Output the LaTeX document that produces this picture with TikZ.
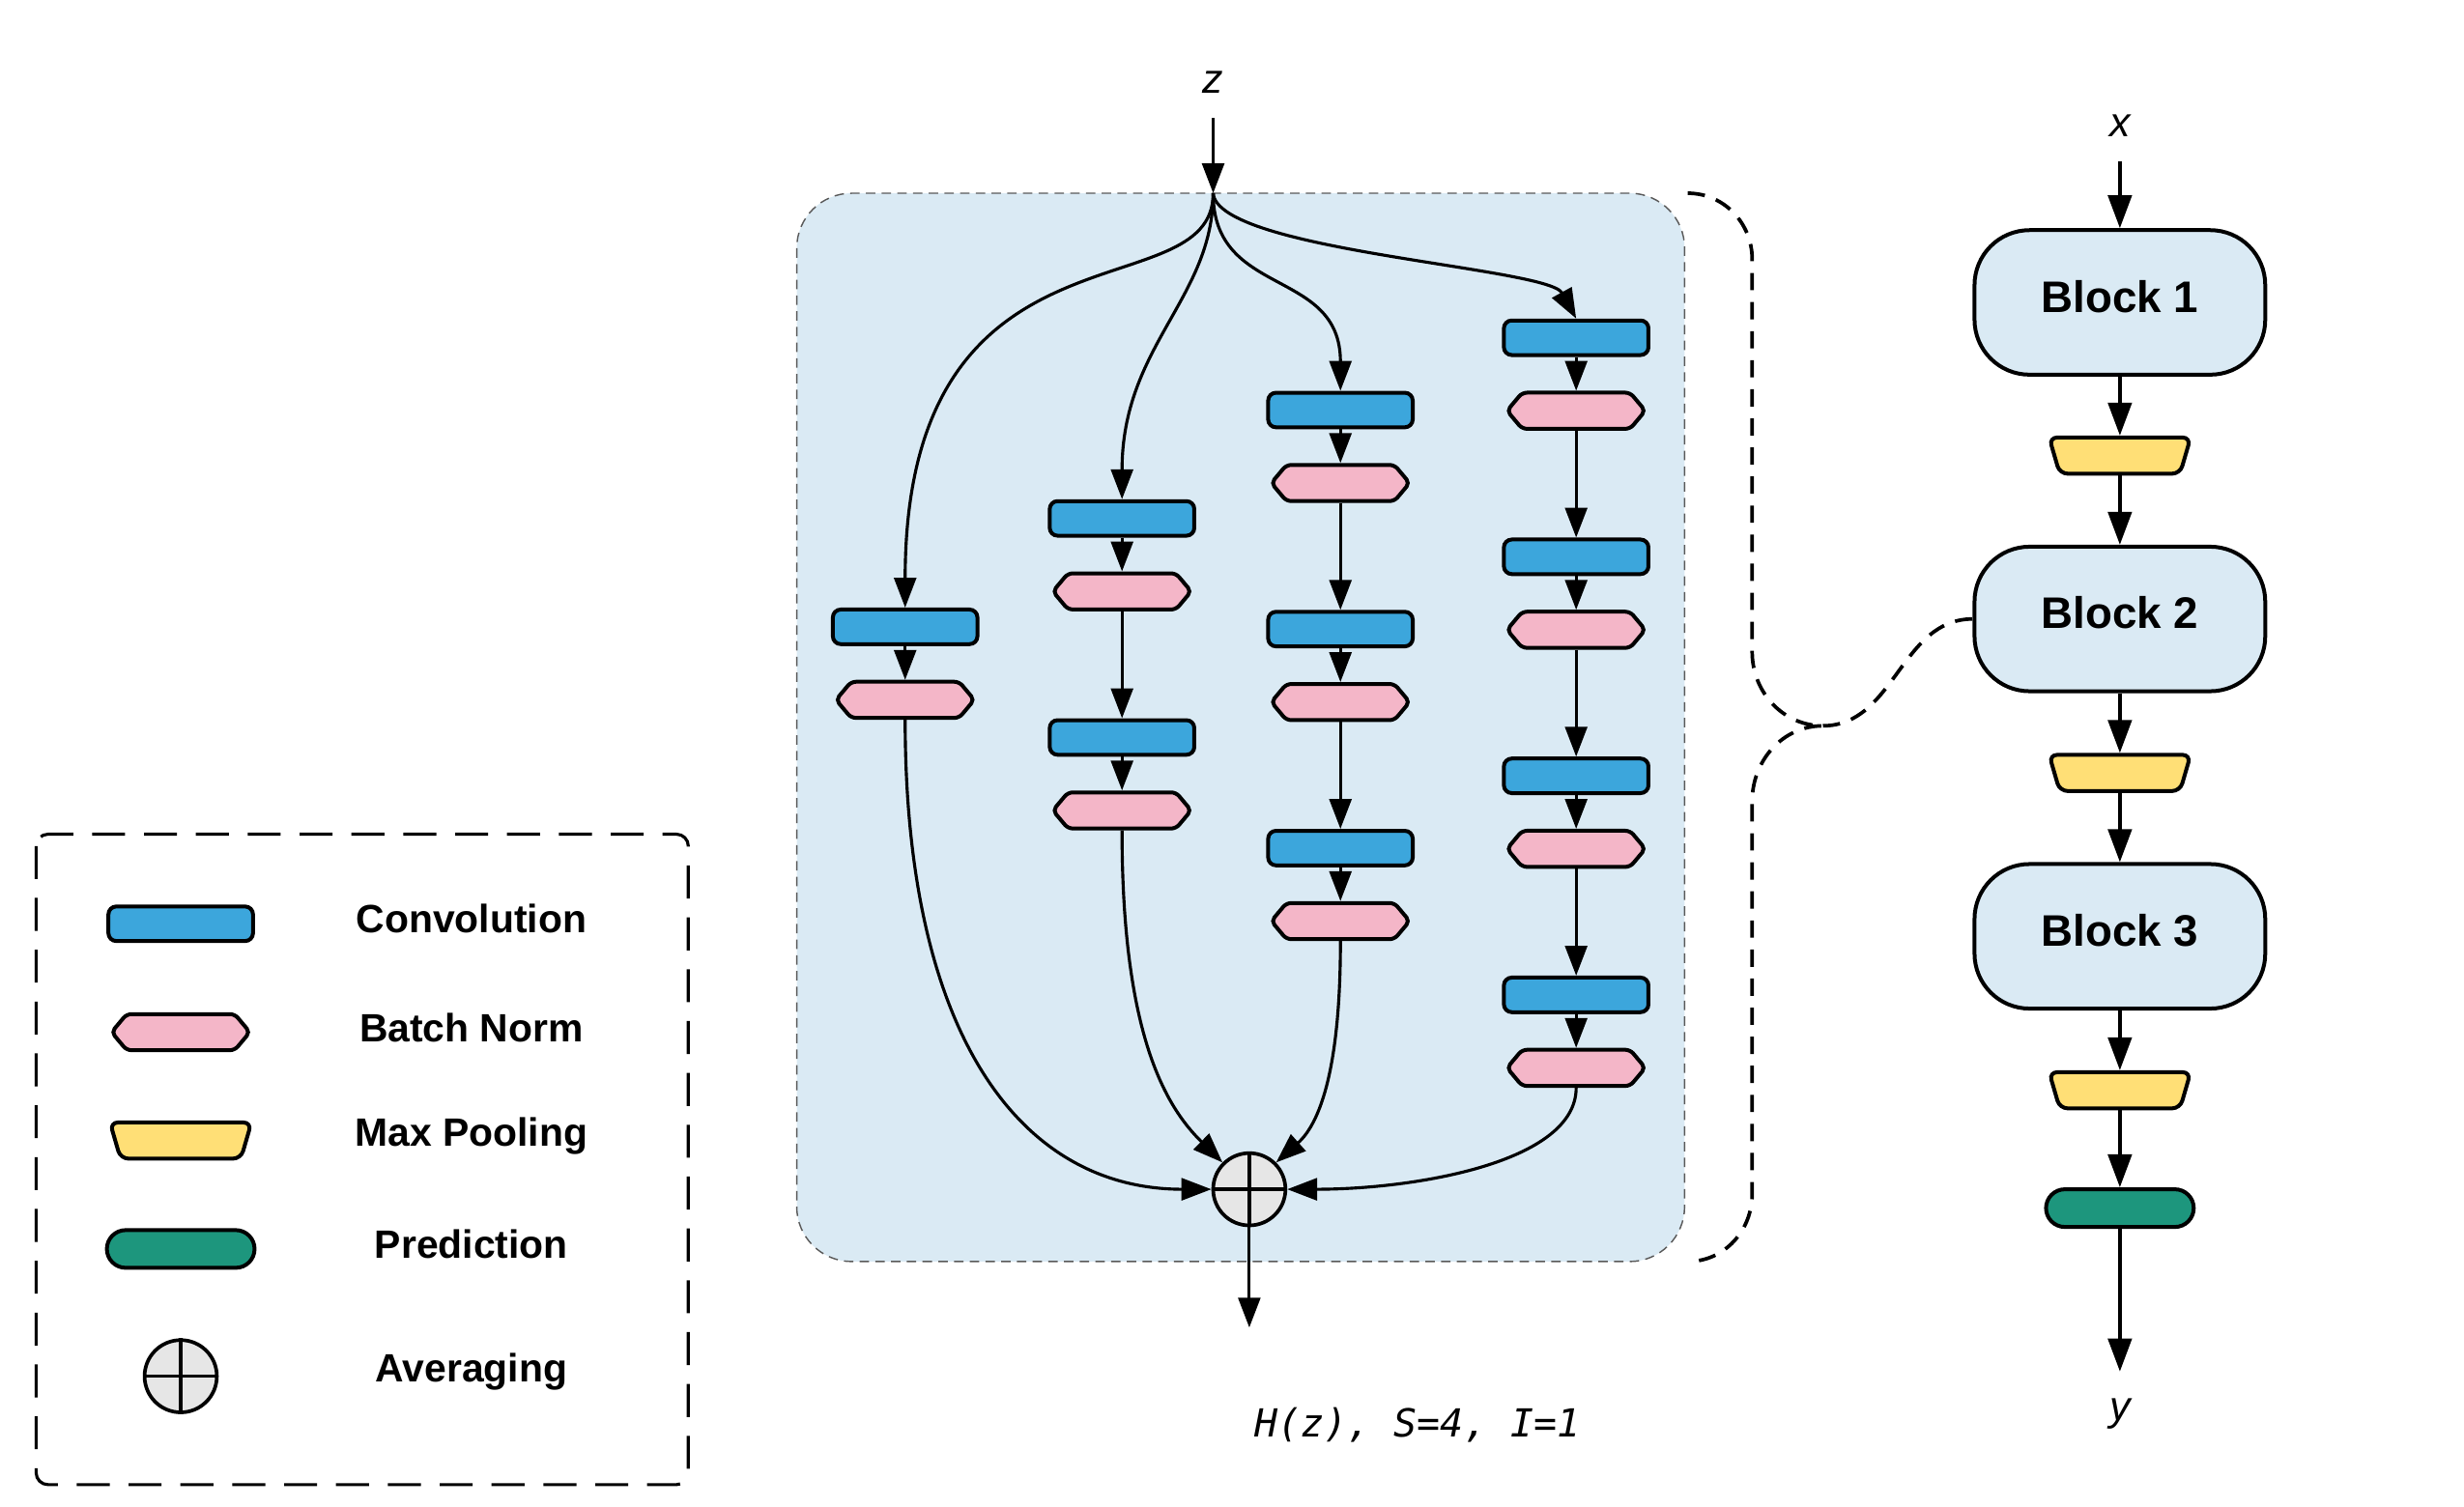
\documentclass[tikz,border=0pt]{standalone}
\usepackage{fontspec}
\setmainfont{Liberation Sans}
\setmonofont{DejaVu Sans Mono}
\usepackage{tikz}
\usetikzlibrary{arrows.meta, positioning, shapes.geometric, shapes.misc, shapes.symbols}

\definecolor{convblue}{HTML}{3CA6DC}
\definecolor{bnpink}{HTML}{F4B6C8}
\definecolor{poolyellow}{HTML}{FFDF76}
\definecolor{predgreen}{HTML}{1D967D}
\definecolor{blockbg}{HTML}{DAEAF4}
\definecolor{avggray}{HTML}{E6E6E6}

\begin{document}
\begin{tikzpicture}[
    conv/.style={draw, line width=1.4pt, fill=convblue, rounded corners=1mm,
                 minimum width=18.4mm, minimum height=4.4mm, inner sep=0pt},
    bn/.style={draw, line width=1.4pt, fill=bnpink, signal, signal to=east and west,
               signal pointer angle=100, rounded corners=0.6mm,
               minimum width=17.6mm, minimum height=4.6mm, inner sep=0pt},
    pool/.style={draw, line width=1.4pt, fill=poolyellow, trapezium,
                 trapezium left angle=85, trapezium right angle=85,
                 shape border rotate=180, trapezium stretches=true,
                 rounded corners=1mm, minimum width=18mm, minimum height=4.6mm,
                 inner sep=1pt},
    pred/.style={draw, line width=1.4pt, fill=predgreen, rounded rectangle,
                 minimum width=18.8mm, minimum height=4.8mm, inner sep=0pt},
    avg/.style={draw, line width=1.3pt, fill=avggray, circle, minimum size=9.2mm,
                inner sep=0pt},
    block/.style={draw, line width=1.4pt, fill=blockbg, rounded corners=7mm,
                  minimum width=37mm, minimum height=18.4mm, text depth=1.6mm,
                  font=\fontsize{16}{18}\selectfont\bfseries},
    lbl/.style={font=\fontsize{14.3}{16}\selectfont\bfseries},
    var/.style={font=\fontsize{15}{17}\selectfont\itshape},
    flow/.style={line width=1.1pt, -{Triangle[length=3.8mm,width=2.8mm]}},
    main/.style={line width=1.3pt, -{Triangle[length=4.2mm,width=3mm]}},
    brace/.style={line width=1.3pt, dash pattern=on 2.2mm off 1.5mm},
  ]
  \useasboundingbox (0,0) rectangle (31.36,-19.18);

  % legend
  \draw[line width=1.1pt, dash pattern=on 4.2mm off 2.4mm, rounded corners=1.5mm]
    (0.46,-10.62) rectangle (8.76,-18.9);
  \node[conv] (kconv) at (2.3,-11.76) {};
  \node[lbl] (kconvt) at (6.0,-11.7) {Convolution};
  \node[bn] (kbn) at (2.3,-13.14) {};
  \node[lbl] (kbnt) at (6.0,-13.08) {Batch Norm};
  \node[pool] (kpool) at (2.3,-14.52) {};
  \node[lbl] (kpoolt) at (6.0,-14.46) {Max Pooling};
  \node[pred] (kpred) at (2.3,-15.9) {};
  \node[lbl] (kpredt) at (6.0,-15.84) {Prediction};
  \node[avg] (kavg) at (2.3,-17.52) {};
  \draw[line width=1.3pt] (kavg.north) -- (kavg.south) (kavg.west) -- (kavg.east);
  \node[lbl] (kavgt) at (6.0,-17.46) {Averaging};

  % the block H(z): four paths of conv + batch norm
  \node[draw=gray!70!black, line width=0.5pt, dash pattern=on 1.2mm off 0.8mm,
        fill=blockbg, rounded corners=7mm, minimum width=113mm, minimum height=136mm]
        (cell) at (15.79,-9.26) {};
  \node[var] (zin) at (15.44,-1.05) {z};
  \coordinate (ztop) at (15.44,-1.5);
  \coordinate (root) at (15.44,-2.46);
  \draw[flow] (ztop) -- (root);

  \node[conv] (c11) at (11.52,-7.98) {};
  \node[bn, below=4.3mm of c11] (b11) {};

  \node[conv] (c21) at (14.28,-6.6) {};
  \node[bn, below=4.3mm of c21] (b21) {};
  \node[conv, below=13.6mm of b21] (c22) {};
  \node[bn, below=4.3mm of c22] (b22) {};

  \node[conv] (c31) at (17.06,-5.22) {};
  \node[bn, below=4.3mm of c31] (b31) {};
  \node[conv, below=13.6mm of b31] (c32) {};
  \node[bn, below=4.3mm of c32] (b32) {};
  \node[conv, below=13.6mm of b32] (c33) {};
  \node[bn, below=4.3mm of c33] (b33) {};

  \node[conv] (c41) at (20.06,-4.3) {};
  \node[bn, below=4.3mm of c41] (b41) {};
  \node[conv, below=13.6mm of b41] (c42) {};
  \node[bn, below=4.3mm of c42] (b42) {};
  \node[conv, below=13.6mm of b42] (c43) {};
  \node[bn, below=4.3mm of c43] (b43) {};
  \node[conv, below=13.6mm of b43] (c44) {};
  \node[bn, below=4.3mm of c44] (b44) {};

  \draw[flow] (root) .. controls (15.44,-4.0) and (11.52,-2.6) .. (c11.north);
  \draw[flow] (root) .. controls (15.44,-3.8) and (14.28,-4.4) .. (c21.north);
  \draw[flow] (root) .. controls (15.44,-3.8) and (17.06,-3.4) .. (c31.north);
  \draw[flow] (root) .. controls (15.5,-3.2) and (19.7,-3.4) .. (c41.north);

  \draw[flow] (c11) -- (b11);
  \draw[flow] (c21) -- (b21);
  \draw[flow] (b21) -- (c22);
  \draw[flow] (c22) -- (b22);
  \draw[flow] (c31) -- (b31);
  \draw[flow] (b31) -- (c32);
  \draw[flow] (c32) -- (b32);
  \draw[flow] (b32) -- (c33);
  \draw[flow] (c33) -- (b33);
  \draw[flow] (c41) -- (b41);
  \draw[flow] (b41) -- (c42);
  \draw[flow] (c42) -- (b42);
  \draw[flow] (b42) -- (c43);
  \draw[flow] (c43) -- (b43);
  \draw[flow] (b43) -- (c44);
  \draw[flow] (c44) -- (b44);

  \node[avg] (sum) at (15.9,-15.14) {};
  \draw[line width=1.3pt] (sum.north) -- (sum.south) (sum.west) -- (sum.east);
  \draw[flow] (b11.south) .. controls (11.52,-13.2) and (13.0,-15.14) .. (sum.west);
  \draw[flow] (b22.south) .. controls (14.28,-13.2) and (14.85,-14.1) .. (sum.north west);
  \draw[flow] (b33.south) .. controls (17.06,-13.6) and (16.8,-14.3) .. (sum.north east);
  \draw[flow] (b44.south) .. controls (20.06,-14.8) and (18.0,-15.14) .. (sum.east);
  \coordinate (hout) at (15.9,-16.9);
  \draw[flow] (sum.south) -- (hout);

  \node[font=\fontsize{14}{16}\selectfont\ttfamily\itshape] (hlabel) at (18.04,-18.14)
    {H(z), S=4, I=1};

  % the whole network
  \node[var] (xin) at (26.98,-1.6) {x};
  \coordinate (xtop) at (26.98,-2.06);
  \node[block] (blk1) at (26.98,-3.85) {Block 1};
  \node[pool] (mp1) at (26.98,-5.8) {};
  \node[block] (blk2) at (26.98,-7.88) {Block 2};
  \node[pool] (mp2) at (26.98,-9.84) {};
  \node[block] (blk3) at (26.98,-11.92) {Block 3};
  \node[pool] (mp3) at (26.98,-13.88) {};
  \node[pred] (out) at (26.98,-15.38) {};
  \coordinate (yend) at (26.98,-17.46);
  \node[var] (yout) at (26.98,-18.0) {y};
  \draw[main] (xtop) -- (blk1);
  \draw[main] (blk1) -- (mp1);
  \draw[main] (mp1) -- (blk2);
  \draw[main] (blk2) -- (mp2);
  \draw[main] (mp2) -- (blk3);
  \draw[main] (blk3) -- (mp3);
  \draw[main] (mp3) -- (out);
  \draw[main] (out) -- (yend);

  % brace: block 2 is H(z)
  \coordinate (cusp) at (23.2,-9.24);
  \draw[brace] (21.48,-2.46) to[out=0,in=90] (22.3,-3.3) -- (22.3,-8.3)
    to[out=-90,in=180] (cusp) to[out=180,in=90] (22.3,-10.2) -- (22.3,-15.2)
    to[out=-90,in=0] (21.48,-16.06);
  \draw[brace] (cusp) to[out=0,in=180] (blk2.west);
\end{tikzpicture}
\end{document}
